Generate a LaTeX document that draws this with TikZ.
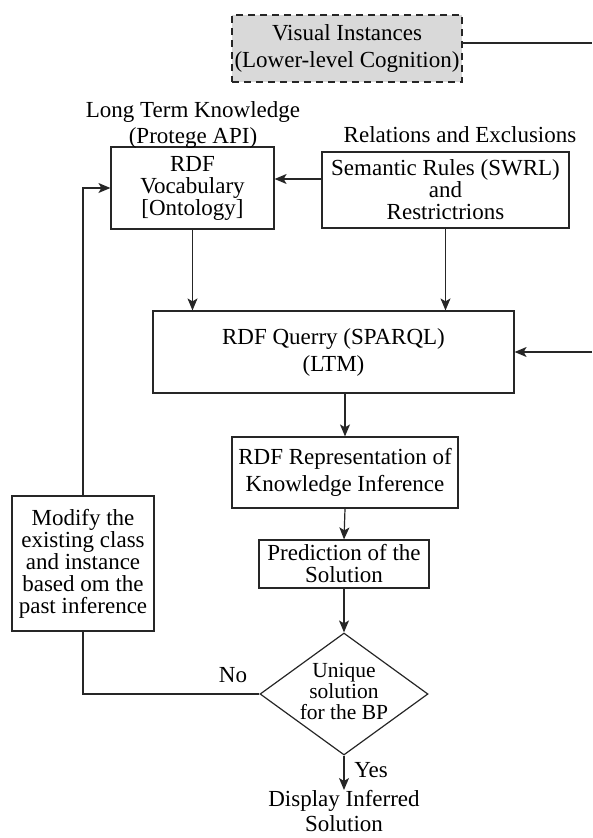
\documentclass[tikz,border=0pt]{standalone}
\usepackage{fontspec}
\setmainfont{Liberation Serif}
\usetikzlibrary{shapes.geometric,arrows.meta}
\begin{document}
\begin{tikzpicture}[x=1pt,y=-1pt,
  line/.style={draw=black!85, line width=1.2pt},
  arr/.style={line, -{Stealth[length=12pt,width=10pt,inset=3pt]}},
  box/.style={draw=black!85, line width=1.2pt, inner sep=0pt, align=center, font=\fontsize{23}{22}\selectfont},
  wide/.style={font=\fontsize{23}{27}\selectfont},
  lbl/.style={inner sep=0pt, align=center, font=\fontsize{23}{27}\selectfont}]
\useasboundingbox (0,0) rectangle (592,838);

% boxes
\node[box, wide, dash pattern=on 7pt off 5pt, fill=black!15, minimum width=230pt, minimum height=67pt] (vis) at (347,48.5) {Visual Instances\\(Lower-level Cognition)};
\node[box, minimum width=163pt, minimum height=82pt] (voc) at (192.5,188) {RDF\\Vocabulary\\{[}Ontology]};
\node[box, minimum width=247pt, minimum height=76pt] (sem) at (445.5,190) {Semantic Rules (SWRL)\\and\\Restrictrions};
\node[box, wide, minimum width=361pt, minimum height=82pt] (qry) at (333.5,352) {RDF Querry (SPARQL)\\(LTM)};
\node[box, wide, minimum width=226pt, minimum height=71pt] (rep) at (345,472.5) {RDF Representation of\\Knowledge Inference};
\node[box, minimum width=170pt, minimum height=48pt] (pred) at (344,564) {Prediction of the\\Solution};
\node[box, minimum width=142pt, minimum height=135pt] (mod) at (83,563.5) {Modify the\\existing class\\and instance\\based om the\\past inference};
\node[diamond, draw=black!85, line width=1.2pt, inner sep=0pt, minimum width=168pt, minimum height=122pt] (dia) at (344,694) {};
\node[lbl, font=\fontsize{21.5}{21}\selectfont] (diat) at (344,691) {Unique\\solution\\for the BP};

% labels
\node[lbl] (ltk) at (193,125) {Long Term Knowledge\\(Protege API)};
\node[lbl] (rel) at (460,135) {Relations and Exclusions};
\node[lbl, anchor=north, font=\fontsize{23}{25}\selectfont] (disp) at (344,790) {Display Inferred\\Solution};
\node[lbl] (no) at (233,675) {No};
\node[lbl] (yes) at (371,770) {Yes};

% free ends and helper coordinates
\coordinate (e1) at (592,43);
\coordinate (e2) at (592,352);
\coordinate (y179) at (0,179);

% connectors
\draw[line] (vis.east |- e1) -- (e1);
\draw[arr] (e2) -- (qry.east);
\draw[arr] (sem.west |- y179) -- (voc.east |- y179);
\draw[arr] (voc.south) -- (voc.south |- qry.north);
\draw[arr] (sem.south) -- (sem.south |- qry.north);
\draw[arr] (qry.south -| rep.north) -- (rep.north);
\draw[arr] (rep.south) -- (pred.north);
\draw[arr] (pred.south) -- (dia.north);
\draw[arr] (dia.south) -- (disp.north);
\draw[line] (dia.west) -| (mod.south);
\draw[arr] (mod.north) |- (voc.west);
\end{tikzpicture}
\end{document}
